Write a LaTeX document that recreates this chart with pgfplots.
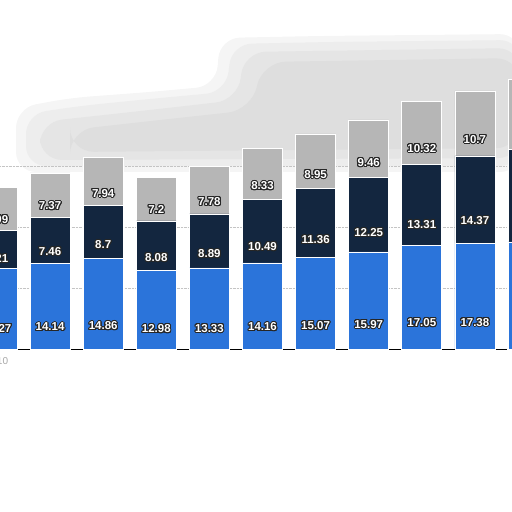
\documentclass[border=0pt]{standalone}
\usepackage{pgfplots}
\pgfplotsset{compat=1.18}
\usepackage{fontspec}
\setmainfont{Liberation Sans}
\usepackage{contour}
\contourlength{1pt}
\contournumber{20}
\definecolor{barblue}{HTML}{2B74DA}
\definecolor{barnavy}{HTML}{13263F}
\definecolor{bargray}{HTML}{B6B6B6}
\definecolor{gridgray}{HTML}{C4C4C4}
\newcommand{\barlabel}[1]{\contour{black!85}{\textcolor{white}{#1}}}

\begin{document}
\begin{tikzpicture}[x=1pt,y=1pt]
\useasboundingbox (0,0) rectangle (512,512);
\clip (0,0) rectangle (512,512);
% the grey smudge at the top (drawn behind the chart)
\fill[black!4,rounded corners=20pt] (16,404) -- (70,414) -- (150,420) -- (216,426) -- (220,474) -- (320,476) -- (520,478) -- (520,340) -- (16,340) -- cycle;
\fill[black!7,rounded corners=20pt] (26,398) -- (80,406) -- (160,414) -- (226,420) -- (232,468) -- (330,470) -- (520,472) -- (520,346) -- (26,346) -- cycle;
\fill[black!10,rounded corners=22pt] (40,390) -- (150,402) -- (238,412) -- (244,460) -- (520,464) -- (520,354) -- (40,352) -- cycle;
\fill[black!13,rounded corners=24pt] (70,382) -- (160,392) -- (252,402) -- (262,450) -- (520,454) -- (520,364) -- (70,360) -- cycle;
\begin{axis}[
  anchor=origin, at={(-3pt,163pt)},
  x=53.1pt, y=6.08pt,
  xmin=-0.6, xmax=9.6, ymin=0, ymax=52,
  clip=false,
  ybar stacked, bar width=40pt,
  axis x line*=bottom, axis y line*=left,
  y axis line style={draw=none},
  x axis line style={black, line width=0.8pt},
  tick style={draw=none},
  ytick={10,20,30}, yticklabels={},
  ymajorgrids, grid style={densely dotted, gridgray, line width=0.6pt},
  xtick={0}, xticklabels={2010},
  xticklabel style={text=black!35, font=\fontsize{10}{12}\selectfont, yshift=-5pt},
  visualization depends on={rawy \as \rawy},
  nodes near coords={\barlabel{\pgfmathprintnumber[assume math mode=true]{\rawy}}},
  every node near coord/.append style={anchor=center, yshift={-1.52pt*\rawy},
    font=\fontsize{11.5}{13}\selectfont\bfseries},
  every axis plot/.append style={draw=white, line width=0.7pt},
]
\addplot[fill=barblue] coordinates {
  (0,13.27) (1,14.14) (2,14.86) (3,12.98) (4,13.33) (5,14.16)
  (6,15.07) (7,15.97) (8,17.05) (9,17.38) (10,17.6)
};
\addplot[fill=barnavy] coordinates {
  (0,6.21) (1,7.46) (2,8.7) (3,8.08) (4,8.89) (5,10.49)
  (6,11.36) (7,12.25) (8,13.31) (9,14.37) (10,15.2)
};
\addplot[fill=bargray] coordinates {
  (0,7.09) (1,7.37) (2,7.94) (3,7.2) (4,7.78) (5,8.33)
  (6,8.95) (7,9.46) (8,10.32) (9,10.7) (10,11.5)
};
\end{axis}
\end{tikzpicture}
\end{document}
